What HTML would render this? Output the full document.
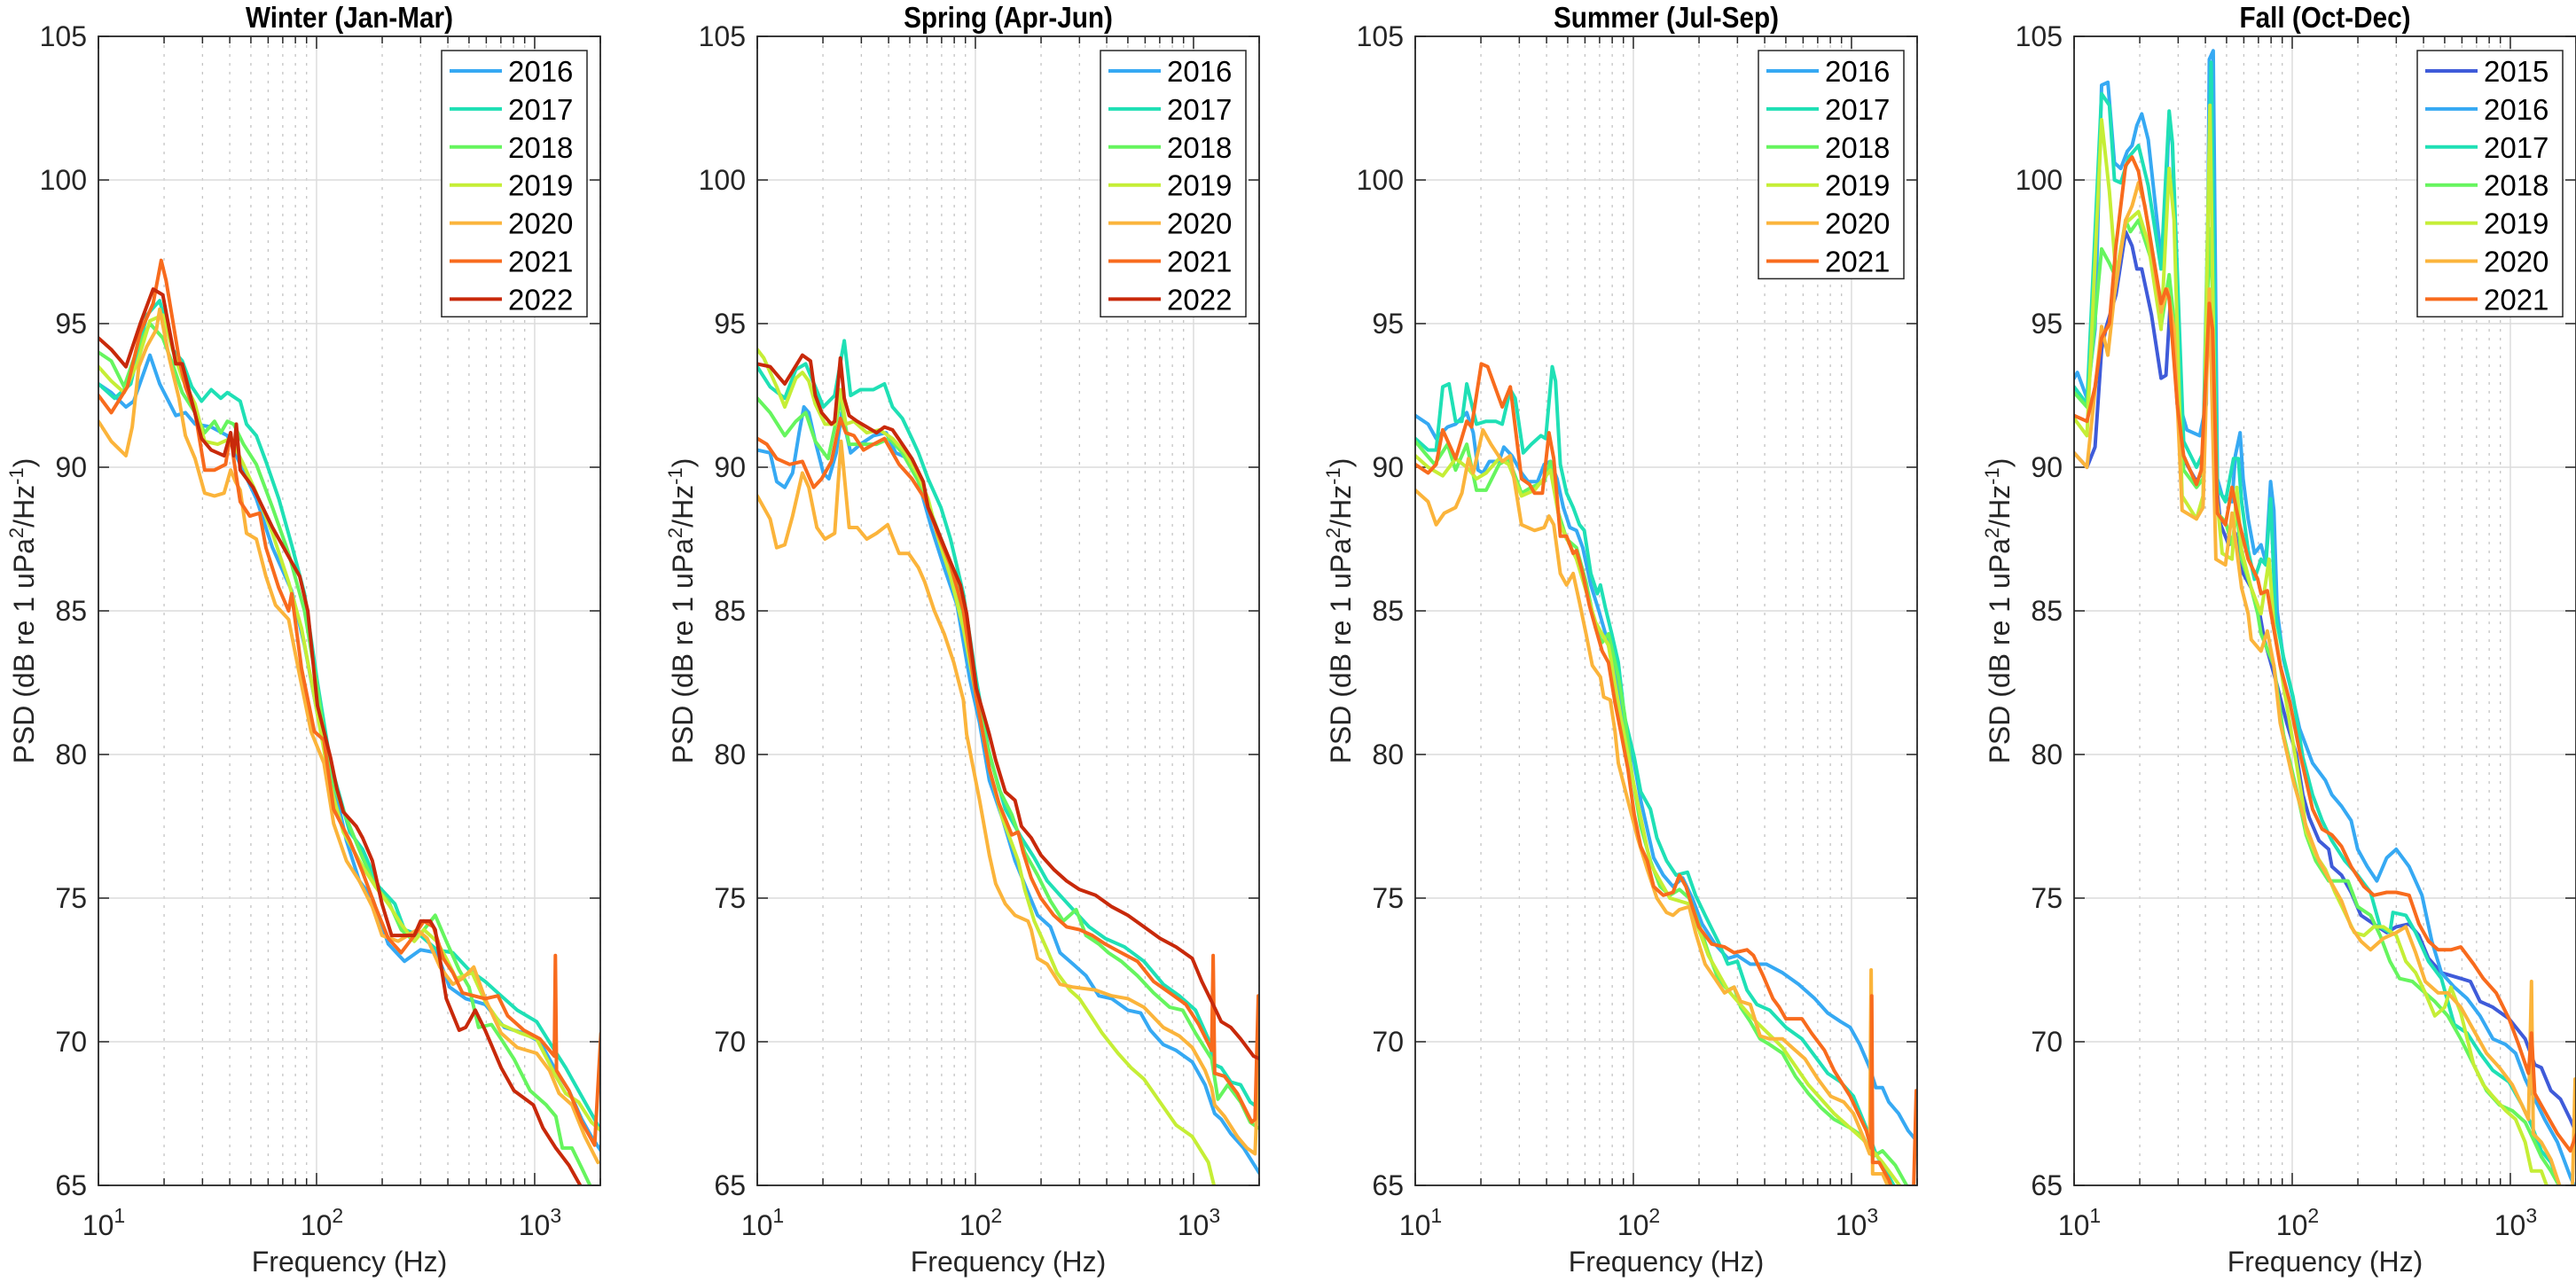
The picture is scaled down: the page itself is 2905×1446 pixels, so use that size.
<!DOCTYPE html>
<html><head><meta charset="utf-8">
<style>
html,body{margin:0;padding:0;background:#fff;}
svg{display:block;font-family:"Liberation Sans",Arial,sans-serif;}
</style></head>
<body>
<svg id="chart" width="2905" height="1446" viewBox="0 0 2905 1446" xmlns="http://www.w3.org/2000/svg"></svg>
<script>
// ---- data: [log10(Hz), dB] pairs ----
const yearColors = {"2015":"#3f5bd9","2016":"#36a9f3","2017":"#1fe0b5","2018":"#66f55e","2019":"#c5ee36","2020":"#fbb43b","2021":"#f86b1d","2022":"#c8290a"};
const panelTitles = ["Winter (Jan-Mar)","Spring (Apr-Jun)","Summer (Jul-Sep)","Fall (Oct-Dec)"];
const yTicks = [65,70,75,80,85,90,95,100,105];
const xDecades = [1,2,3];

const winter2016 = [[1.000,92.9],[1.059,92.6],[1.126,92.1],[1.162,92.3],[1.236,93.9],[1.281,92.9],[1.355,91.8],[1.399,91.9],[1.443,91.5],[1.517,91.4],[1.591,91.1],[1.650,90.1],[1.724,88.9],[1.798,87.2],[1.886,85.7],[1.945,83.8],[2.004,81.4],[2.064,79.5],[2.137,77.0],[2.196,75.6],[2.256,75.0],[2.329,73.4],[2.403,72.8],[2.477,73.2],[2.551,73.1],[2.610,71.9],[2.684,71.5],[2.773,71.3],[2.861,70.5],[2.950,70.3],[3.024,70.0],[3.097,69.0],[3.157,68.3],[3.216,67.3],[3.260,66.7],[3.304,66.2]];
const winter2017 = [[1.000,92.9],[1.074,92.4],[1.148,92.9],[1.222,95.3],[1.281,95.8],[1.340,94.1],[1.384,93.7],[1.428,92.8],[1.473,92.3],[1.517,92.7],[1.561,92.4],[1.591,92.6],[1.650,92.3],[1.679,91.5],[1.724,91.1],[1.768,90.2],[1.827,88.9],[1.886,87.3],[1.945,85.6],[2.004,82.5],[2.064,79.7],[2.152,77.3],[2.211,76.7],[2.285,75.4],[2.359,74.8],[2.403,73.9],[2.477,73.7],[2.551,73.2],[2.625,73.1],[2.699,72.5],[2.773,72.1],[2.846,71.6],[2.920,71.1],[3.009,70.7],[3.083,69.8],[3.142,69.1],[3.201,68.3],[3.260,67.5],[3.304,66.9]];
const winter2018 = [[1.000,94.0],[1.059,93.7],[1.118,92.8],[1.177,94.1],[1.236,95.0],[1.295,94.5],[1.340,93.6],[1.384,92.6],[1.443,91.9],[1.487,91.2],[1.532,91.6],[1.561,91.2],[1.591,91.6],[1.620,91.5],[1.665,90.8],[1.724,90.1],[1.798,88.6],[1.872,87.0],[1.945,85.0],[2.004,82.3],[2.064,79.2],[2.152,77.5],[2.211,76.4],[2.270,75.4],[2.329,74.9],[2.388,73.9],[2.448,73.5],[2.492,73.9],[2.544,74.4],[2.595,73.5],[2.654,72.5],[2.699,71.9],[2.743,70.5],[2.802,70.6],[2.846,70.1],[2.905,69.4],[2.979,68.3],[3.053,67.8],[3.097,67.4],[3.127,66.3],[3.171,66.3],[3.216,65.6],[3.260,64.9],[3.280,64.2]];
const winter2019 = [[1.000,93.5],[1.059,93.0],[1.118,92.6],[1.177,93.6],[1.236,95.1],[1.295,95.3],[1.340,94.1],[1.384,93.1],[1.443,92.2],[1.487,90.9],[1.547,90.8],[1.606,91.0],[1.665,90.1],[1.724,89.1],[1.798,87.7],[1.872,86.0],[1.931,84.4],[1.990,82.0],[2.064,78.9],[2.123,77.3],[2.211,76.1],[2.270,75.4],[2.329,74.8],[2.388,74.1],[2.448,73.5],[2.492,73.9],[2.551,73.5],[2.595,72.9],[2.640,72.2],[2.713,72.4],[2.773,71.4],[2.846,70.6],[2.935,70.3],[3.009,70.1],[3.097,68.8],[3.142,68.2],[3.201,67.9],[3.260,67.2],[3.304,66.9]];
const winter2020 = [[1.000,91.6],[1.059,90.9],[1.126,90.4],[1.155,91.4],[1.185,93.5],[1.222,94.2],[1.266,94.8],[1.281,95.5],[1.325,93.8],[1.369,92.4],[1.399,91.1],[1.443,90.3],[1.487,89.1],[1.532,89.0],[1.576,89.1],[1.606,89.9],[1.628,89.5],[1.650,89.2],[1.679,87.7],[1.724,87.5],[1.768,86.2],[1.812,85.2],[1.872,84.7],[1.916,83.0],[1.975,80.8],[2.034,79.7],[2.078,77.6],[2.137,76.3],[2.196,75.6],[2.256,74.7],[2.300,73.7],[2.374,73.5],[2.462,73.9],[2.507,73.6],[2.566,72.6],[2.625,72.0],[2.669,72.2],[2.721,72.6],[2.773,71.5],[2.846,70.3],[2.920,69.8],[3.009,69.6],[3.068,69.0],[3.112,68.2],[3.171,67.8],[3.230,66.7],[3.290,65.8]];
const winter2021 = [[1.000,92.5],[1.059,91.9],[1.133,92.8],[1.192,94.7],[1.251,95.7],[1.288,97.2],[1.310,96.5],[1.369,93.8],[1.399,92.8],[1.443,91.9],[1.487,89.9],[1.532,89.9],[1.583,90.1],[1.606,91.2],[1.620,90.3],[1.650,88.8],[1.694,88.3],[1.739,88.4],[1.768,87.2],[1.827,85.8],[1.872,85.0],[1.886,85.6],[1.931,83.0],[1.990,80.8],[2.034,80.5],[2.078,78.1],[2.152,77.0],[2.211,75.9],[2.270,74.7],[2.329,73.6],[2.388,73.1],[2.448,73.7],[2.492,74.2],[2.536,74.0],[2.581,72.9],[2.625,72.4],[2.669,71.7],[2.773,71.5],[2.832,71.6],[2.876,70.9],[2.950,70.4],[3.024,70.1],[3.090,69.5],[3.095,73.0],[3.100,69.0],[3.157,68.3],[3.216,67.2],[3.275,66.4],[3.304,70.3]];
const winter2022 = [[1.000,94.5],[1.059,94.1],[1.126,93.5],[1.192,95.0],[1.251,96.2],[1.295,96.0],[1.355,93.6],[1.384,93.6],[1.428,92.3],[1.473,91.0],[1.517,90.6],[1.576,90.4],[1.606,91.2],[1.620,90.4],[1.632,91.5],[1.650,89.9],[1.709,89.3],[1.798,87.9],[1.886,86.7],[1.923,86.2],[1.960,85.0],[2.004,81.7],[2.064,79.9],[2.093,78.8],[2.123,78.0],[2.182,77.5],[2.211,77.1],[2.256,76.3],[2.300,74.8],[2.344,73.7],[2.403,73.7],[2.448,73.7],[2.477,74.2],[2.521,74.2],[2.544,73.9],[2.595,71.5],[2.654,70.4],[2.684,70.5],[2.728,71.1],[2.773,70.4],[2.846,69.1],[2.905,68.3],[2.994,67.8],[3.038,67.0],[3.097,66.3],[3.157,65.7],[3.216,64.9]];

const spring2016 = [[1.000,90.6],[1.059,90.5],[1.089,89.5],[1.126,89.3],[1.162,89.8],[1.192,91.2],[1.214,92.1],[1.236,91.9],[1.266,90.9],[1.303,89.8],[1.328,89.6],[1.362,90.5],[1.387,91.9],[1.428,90.5],[1.473,90.8],[1.532,91.1],[1.591,91.2],[1.635,90.5],[1.694,90.3],[1.739,89.5],[1.798,87.9],[1.857,86.5],[1.916,85.2],[1.975,82.6],[2.019,81.1],[2.064,79.1],[2.123,77.8],[2.182,76.3],[2.241,75.2],[2.285,74.4],[2.344,74.0],[2.388,73.1],[2.448,72.7],[2.507,72.3],[2.566,71.6],[2.625,71.5],[2.699,71.1],[2.758,71.0],[2.802,70.4],[2.861,69.9],[2.920,69.7],[2.994,69.3],[3.053,68.5],[3.097,67.5],[3.127,67.3],[3.171,66.8],[3.230,66.3],[3.304,65.4]];
const spring2017 = [[1.000,93.5],[1.059,92.8],[1.126,92.4],[1.177,93.4],[1.222,93.6],[1.266,92.8],[1.303,92.1],[1.355,92.5],[1.399,94.4],[1.428,92.5],[1.473,92.7],[1.532,92.7],[1.583,92.9],[1.620,92.1],[1.665,91.7],[1.709,91.0],[1.739,90.5],[1.783,89.6],[1.842,88.6],[1.886,87.5],[1.945,85.6],[2.004,82.6],[2.064,80.0],[2.137,78.1],[2.211,77.1],[2.270,76.4],[2.329,75.6],[2.388,75.1],[2.448,74.6],[2.521,74.0],[2.595,73.6],[2.684,73.3],[2.773,72.8],[2.861,72.0],[2.935,71.6],[3.009,71.1],[3.068,70.1],[3.097,69.2],[3.127,69.1],[3.171,68.6],[3.216,68.5],[3.260,67.9],[3.297,67.7]];
const spring2018 = [[1.000,92.4],[1.059,91.9],[1.126,91.1],[1.177,91.6],[1.222,91.9],[1.266,90.9],[1.325,90.3],[1.381,92.3],[1.421,90.8],[1.473,90.8],[1.547,90.8],[1.606,91.0],[1.665,90.5],[1.739,89.5],[1.798,88.4],[1.857,87.2],[1.916,85.9],[1.975,83.2],[2.049,80.5],[2.108,78.8],[2.167,77.9],[2.226,76.6],[2.285,75.8],[2.344,74.9],[2.403,74.2],[2.462,74.6],[2.507,73.7],[2.566,73.4],[2.610,73.1],[2.669,72.8],[2.743,72.3],[2.817,71.7],[2.891,71.2],[2.950,71.1],[3.009,70.3],[3.083,69.4],[3.112,68.0],[3.157,68.5],[3.216,67.9],[3.260,67.2],[3.297,67.0]];
const spring2019 = [[1.000,94.1],[1.030,93.8],[1.089,92.8],[1.126,92.1],[1.177,93.1],[1.207,93.3],[1.236,93.0],[1.266,92.2],[1.310,91.5],[1.355,91.5],[1.381,92.7],[1.406,91.5],[1.443,91.6],[1.502,91.2],[1.561,91.3],[1.620,91.0],[1.679,90.5],[1.739,89.7],[1.783,88.9],[1.827,87.6],[1.886,86.2],[1.945,84.4],[2.004,82.0],[2.064,79.5],[2.123,77.8],[2.167,76.9],[2.196,76.3],[2.226,75.3],[2.270,74.2],[2.329,73.2],[2.374,72.4],[2.433,71.8],[2.477,71.5],[2.521,71.0],[2.581,70.3],[2.654,69.6],[2.713,69.1],[2.773,68.7],[2.846,67.9],[2.920,67.1],[2.994,66.7],[3.068,65.8],[3.097,64.9],[3.120,64.0]];
const spring2020 = [[1.000,89.0],[1.059,88.2],[1.089,87.2],[1.126,87.3],[1.162,88.3],[1.207,89.8],[1.236,89.3],[1.273,87.9],[1.310,87.5],[1.355,87.7],[1.384,90.9],[1.421,87.9],[1.458,87.9],[1.502,87.5],[1.547,87.7],[1.598,88.0],[1.650,87.0],[1.694,87.0],[1.739,86.5],[1.768,86.0],[1.812,85.0],[1.857,84.2],[1.901,83.2],[1.945,81.9],[1.960,80.7],[2.019,78.4],[2.064,76.5],[2.093,75.5],[2.137,74.8],[2.182,74.4],[2.241,74.2],[2.256,73.9],[2.285,72.9],[2.329,72.7],[2.388,72.0],[2.448,71.9],[2.551,71.8],[2.625,71.6],[2.699,71.5],[2.773,71.2],[2.861,70.5],[2.935,70.2],[2.994,69.8],[3.053,69.0],[3.083,68.4],[3.097,67.8],[3.142,67.4],[3.201,66.7],[3.245,66.3],[3.282,66.1],[3.304,70.1]];
const spring2021 = [[1.000,91.0],[1.044,90.8],[1.089,90.3],[1.148,90.1],[1.207,90.2],[1.258,89.3],[1.295,89.6],[1.340,90.2],[1.381,91.7],[1.406,91.2],[1.443,91.1],[1.487,90.6],[1.532,90.8],[1.583,91.0],[1.650,90.1],[1.709,89.6],[1.768,88.9],[1.827,87.7],[1.886,86.6],[1.945,85.0],[2.004,82.0],[2.064,79.5],[2.108,78.3],[2.167,77.2],[2.196,77.3],[2.219,76.6],[2.256,75.7],[2.300,75.0],[2.359,74.4],[2.418,74.0],[2.477,73.9],[2.536,73.7],[2.595,73.4],[2.669,73.1],[2.743,72.8],[2.817,72.1],[2.891,71.7],[2.965,71.3],[3.024,70.6],[3.083,69.7],[3.090,73.0],[3.097,68.9],[3.142,68.8],[3.201,68.2],[3.267,67.2],[3.282,67.3],[3.297,71.6]];
const spring2022 = [[1.000,93.6],[1.059,93.5],[1.126,92.9],[1.207,93.9],[1.244,93.7],[1.266,92.5],[1.295,91.9],[1.340,91.5],[1.355,91.6],[1.381,93.8],[1.399,92.4],[1.421,91.8],[1.458,91.6],[1.502,91.4],[1.547,91.2],[1.583,91.4],[1.620,91.3],[1.665,90.8],[1.709,90.3],[1.761,89.5],[1.783,88.6],[1.827,87.8],[1.886,86.7],[1.931,85.9],[1.960,84.9],[2.004,82.3],[2.064,80.7],[2.093,79.8],[2.137,78.7],[2.182,78.4],[2.211,77.5],[2.256,77.1],[2.300,76.5],[2.359,76.0],[2.418,75.6],[2.477,75.3],[2.551,75.1],[2.625,74.7],[2.699,74.4],[2.773,74.0],[2.846,73.6],[2.920,73.3],[2.994,72.9],[3.038,72.1],[3.083,71.4],[3.127,70.7],[3.171,70.5],[3.216,70.1],[3.275,69.5],[3.304,69.4]];

const summer2016 = [[1.000,91.8],[1.059,91.5],[1.096,91.0],[1.148,91.4],[1.185,91.5],[1.236,91.9],[1.266,91.2],[1.288,89.9],[1.310,89.8],[1.340,90.2],[1.384,90.2],[1.406,90.7],[1.443,90.4],[1.487,89.8],[1.517,89.5],[1.561,89.5],[1.591,90.1],[1.620,90.2],[1.650,89.6],[1.679,88.6],[1.709,87.9],[1.739,87.8],[1.768,87.2],[1.805,85.9],[1.842,85.0],[1.872,84.2],[1.916,82.9],[1.960,81.1],[2.004,79.7],[2.034,78.4],[2.093,76.4],[2.137,75.8],[2.182,75.4],[2.226,75.7],[2.270,75.0],[2.315,74.1],[2.374,73.4],[2.433,72.9],[2.477,73.0],[2.536,72.7],[2.610,72.7],[2.684,72.4],[2.758,72.0],[2.832,71.5],[2.891,71.0],[2.950,70.7],[2.994,70.5],[3.038,69.9],[3.083,69.1],[3.112,68.4],[3.142,68.4],[3.171,67.9],[3.216,67.5],[3.260,66.9],[3.304,66.5]];
const summer2017 = [[1.000,91.0],[1.059,90.6],[1.096,90.6],[1.126,92.8],[1.155,92.9],[1.185,91.6],[1.214,91.6],[1.236,92.9],[1.281,91.5],[1.325,91.6],[1.369,91.6],[1.399,91.5],[1.436,92.7],[1.458,92.4],[1.495,90.5],[1.532,90.8],[1.576,91.1],[1.598,91.0],[1.628,93.5],[1.643,93.0],[1.665,90.1],[1.694,89.1],[1.724,88.6],[1.753,88.0],[1.775,87.8],[1.805,86.3],[1.835,85.6],[1.849,85.9],[1.872,85.1],[1.901,84.2],[1.931,83.2],[1.960,81.3],[2.004,79.9],[2.034,78.7],[2.078,78.1],[2.108,77.1],[2.152,76.3],[2.196,75.8],[2.248,75.9],[2.285,75.1],[2.329,74.4],[2.388,73.5],[2.433,72.7],[2.477,72.8],[2.521,71.8],[2.566,71.3],[2.625,71.1],[2.699,70.5],[2.773,70.1],[2.832,69.5],[2.891,68.9],[2.950,68.6],[3.009,68.1],[3.068,67.0],[3.112,66.1],[3.157,65.5],[3.201,64.9],[3.240,64.0]];
const summer2018 = [[1.000,90.9],[1.044,90.5],[1.089,90.1],[1.148,90.8],[1.185,89.9],[1.236,90.8],[1.281,89.2],[1.325,89.2],[1.384,90.1],[1.428,90.3],[1.487,89.1],[1.532,89.3],[1.591,89.5],[1.620,90.2],[1.657,88.4],[1.694,87.5],[1.739,87.2],[1.783,86.0],[1.827,84.4],[1.857,83.9],[1.886,84.2],[1.931,82.7],[1.960,81.4],[1.990,79.5],[2.034,77.5],[2.078,76.3],[2.123,75.4],[2.167,75.1],[2.211,75.3],[2.256,75.0],[2.300,74.1],[2.344,73.1],[2.388,72.2],[2.433,71.8],[2.462,71.9],[2.492,71.2],[2.536,70.7],[2.581,70.1],[2.625,69.9],[2.684,69.6],[2.743,68.8],[2.802,68.2],[2.861,67.7],[2.920,67.3],[2.994,67.0],[3.053,66.7],[3.097,66.0],[3.142,66.2],[3.201,65.7],[3.260,64.9],[3.290,64.2]];
const summer2019 = [[1.000,90.4],[1.059,90.0],[1.126,89.7],[1.185,90.3],[1.236,90.0],[1.281,89.6],[1.325,89.8],[1.384,90.3],[1.428,90.1],[1.487,89.0],[1.547,89.2],[1.620,89.9],[1.665,88.0],[1.739,86.8],[1.827,84.6],[1.886,83.8],[1.945,81.2],[1.990,79.4],[2.078,76.2],[2.167,75.0],[2.256,74.8],[2.344,73.0],[2.433,71.8],[2.536,70.9],[2.684,69.8],[2.802,68.5],[2.920,67.5],[3.053,66.6],[3.142,65.8],[3.230,64.9]];
const summer2020 = [[1.000,89.2],[1.059,88.8],[1.096,88.0],[1.133,88.4],[1.185,88.6],[1.214,89.1],[1.244,90.3],[1.266,89.8],[1.310,91.3],[1.347,90.8],[1.399,90.2],[1.436,90.4],[1.487,88.0],[1.547,87.8],[1.591,87.9],[1.613,88.3],[1.635,88.0],[1.665,86.3],[1.694,85.9],[1.724,86.3],[1.753,85.3],[1.783,84.2],[1.812,83.1],[1.849,82.7],[1.864,82.0],[1.894,81.9],[1.916,80.8],[1.931,79.7],[1.975,78.4],[2.019,77.1],[2.064,76.0],[2.108,75.0],[2.152,74.5],[2.182,74.4],[2.211,74.6],[2.256,74.7],[2.285,73.8],[2.329,72.7],[2.374,72.2],[2.418,71.7],[2.462,71.9],[2.492,71.4],[2.536,71.3],[2.581,70.2],[2.625,70.1],[2.684,70.1],[2.728,69.8],[2.787,69.4],[2.846,68.7],[2.905,68.1],[2.965,67.9],[3.009,67.5],[3.053,66.7],[3.083,66.1],[3.090,72.5],[3.097,65.4],[3.142,65.4],[3.171,64.9],[3.250,63.5]];
const summer2021 = [[1.000,90.1],[1.059,89.8],[1.096,90.1],[1.126,91.3],[1.185,90.3],[1.236,91.6],[1.258,91.4],[1.303,93.6],[1.332,93.5],[1.399,92.1],[1.436,92.8],[1.473,90.5],[1.487,89.6],[1.524,89.4],[1.547,89.1],[1.583,89.1],[1.613,91.2],[1.635,90.3],[1.665,87.6],[1.694,87.6],[1.724,87.0],[1.739,87.1],[1.768,86.3],[1.798,85.2],[1.827,84.4],[1.857,83.6],[1.886,83.2],[1.916,81.8],[1.945,80.7],[1.975,79.5],[2.004,77.9],[2.034,76.8],[2.064,76.3],[2.093,75.4],[2.137,75.1],[2.182,75.2],[2.211,75.8],[2.241,75.4],[2.270,74.7],[2.300,74.0],[2.359,73.4],[2.418,73.3],[2.462,73.1],[2.521,73.2],[2.551,73.0],[2.595,72.3],[2.640,71.5],[2.669,71.2],[2.699,70.8],[2.773,70.8],[2.817,70.3],[2.876,69.7],[2.920,69.0],[2.994,68.1],[3.068,66.9],[3.090,66.3],[3.093,71.6],[3.097,65.8],[3.127,65.8],[3.171,65.2],[3.186,64.9],[3.230,64.0],[3.282,64.0],[3.297,68.3]];

const fall2015 = [[1.000,90.5],[1.059,90.0],[1.096,90.7],[1.126,94.1],[1.148,94.9],[1.192,96.0],[1.236,98.2],[1.266,97.7],[1.288,96.9],[1.310,96.9],[1.355,95.3],[1.399,93.1],[1.421,93.2],[1.443,96.0],[1.473,92.2],[1.502,90.3],[1.561,89.5],[1.591,89.9],[1.613,94.8],[1.628,95.5],[1.650,89.6],[1.672,88.0],[1.709,87.3],[1.739,87.7],[1.768,86.4],[1.812,85.8],[1.849,85.0],[1.872,84.0],[1.931,82.4],[1.975,81.1],[2.019,80.0],[2.049,78.6],[2.078,77.8],[2.123,77.0],[2.167,76.7],[2.182,76.1],[2.226,75.8],[2.270,75.2],[2.315,74.4],[2.374,74.1],[2.433,73.8],[2.477,74.0],[2.536,74.1],[2.581,73.7],[2.625,72.9],[2.684,72.4],[2.773,72.2],[2.817,72.1],[2.861,71.4],[2.920,71.2],[2.994,70.8],[3.068,70.1],[3.112,69.2],[3.142,69.1],[3.186,68.3],[3.230,68.0],[3.275,67.3],[3.304,66.8]];
const fall2016 = [[1.000,93.1],[1.015,93.3],[1.059,92.4],[1.096,94.8],[1.126,103.3],[1.155,103.4],[1.185,100.6],[1.214,100.4],[1.244,101.0],[1.266,101.2],[1.288,101.9],[1.310,102.3],[1.340,101.4],[1.399,97.3],[1.421,99.2],[1.436,102.3],[1.451,101.2],[1.487,92.1],[1.517,91.3],[1.576,91.1],[1.606,92.2],[1.620,104.2],[1.638,104.5],[1.657,89.6],[1.679,89.0],[1.724,88.8],[1.739,90.4],[1.761,91.2],[1.775,89.6],[1.798,88.2],[1.827,87.0],[1.857,87.3],[1.879,86.7],[1.901,89.5],[1.916,88.5],[1.931,85.0],[1.960,83.3],[1.990,82.4],[2.034,80.9],[2.093,79.7],[2.152,79.1],[2.182,78.6],[2.226,78.2],[2.270,77.7],[2.300,76.7],[2.344,76.1],[2.388,75.6],[2.433,76.4],[2.477,76.7],[2.536,76.1],[2.595,75.1],[2.640,73.5],[2.684,72.4],[2.743,71.9],[2.802,71.5],[2.861,70.9],[2.920,70.1],[2.979,69.9],[3.024,69.6],[3.068,68.7],[3.112,68.0],[3.157,67.3],[3.216,66.5],[3.275,65.3],[3.304,64.8]];
const fall2017 = [[1.000,92.8],[1.059,92.2],[1.126,103.0],[1.162,102.6],[1.185,100.0],[1.214,99.9],[1.251,100.8],[1.295,101.2],[1.340,99.8],[1.399,96.9],[1.436,102.4],[1.451,101.3],[1.502,90.9],[1.561,90.0],[1.591,90.5],[1.628,104.1],[1.657,89.3],[1.694,88.8],[1.731,90.3],[1.753,90.3],[1.768,88.8],[1.798,87.1],[1.827,86.1],[1.857,86.8],[1.879,86.6],[1.901,88.9],[1.923,84.9],[1.960,83.4],[2.004,82.0],[2.049,79.9],[2.093,78.6],[2.137,77.7],[2.182,77.0],[2.241,76.3],[2.300,75.8],[2.359,75.2],[2.403,74.0],[2.448,73.8],[2.462,74.5],[2.521,74.4],[2.566,73.8],[2.625,72.8],[2.684,72.2],[2.743,70.6],[2.802,70.3],[2.861,69.6],[2.920,69.0],[2.994,68.6],[3.053,67.8],[3.097,67.1],[3.142,66.2],[3.186,65.8],[3.230,64.9],[3.270,64.0]];
const fall2018 = [[1.000,92.6],[1.059,92.1],[1.126,97.6],[1.162,97.1],[1.192,96.6],[1.236,98.6],[1.258,98.2],[1.295,98.6],[1.355,97.2],[1.399,94.9],[1.436,96.7],[1.458,95.1],[1.502,89.9],[1.561,89.3],[1.591,89.6],[1.620,98.3],[1.635,96.0],[1.657,88.4],[1.694,88.1],[1.724,87.3],[1.746,88.5],[1.768,86.8],[1.812,85.8],[1.842,84.9],[1.857,84.2],[1.916,83.1],[1.960,80.7],[2.019,78.8],[2.064,77.2],[2.108,76.3],[2.167,75.6],[2.211,75.6],[2.256,75.6],[2.300,74.7],[2.359,74.4],[2.403,73.7],[2.448,72.8],[2.492,72.2],[2.551,72.1],[2.595,71.8],[2.654,71.4],[2.713,70.9],[2.773,70.1],[2.832,69.2],[2.891,68.3],[2.950,67.8],[3.009,67.6],[3.068,67.2],[3.112,66.5],[3.142,66.0],[3.186,65.5],[3.230,64.9],[3.270,64.0]];
const fall2019 = [[1.000,91.7],[1.059,91.1],[1.126,102.1],[1.162,99.6],[1.192,96.7],[1.236,98.5],[1.295,98.9],[1.340,97.8],[1.399,94.8],[1.436,100.4],[1.458,98.6],[1.495,89.0],[1.561,88.2],[1.591,89.0],[1.623,102.6],[1.650,89.3],[1.679,87.0],[1.724,86.8],[1.746,89.3],[1.768,87.1],[1.812,85.8],[1.857,84.9],[1.894,86.8],[1.916,84.5],[1.960,82.4],[2.004,80.4],[2.049,78.3],[2.064,77.3],[2.108,76.5],[2.152,76.0],[2.196,75.2],[2.241,74.5],[2.285,73.8],[2.329,73.7],[2.374,74.0],[2.418,74.0],[2.477,73.7],[2.521,72.8],[2.566,72.4],[2.610,71.7],[2.654,70.9],[2.699,71.2],[2.728,71.9],[2.773,71.0],[2.832,69.2],[2.876,68.5],[2.920,68.1],[2.979,67.6],[3.024,67.3],[3.068,66.5],[3.097,65.5],[3.142,65.5],[3.171,64.9],[3.220,64.0]];
const fall2020 = [[1.000,90.5],[1.059,90.0],[1.126,94.9],[1.155,93.9],[1.185,96.0],[1.236,98.6],[1.266,99.1],[1.295,99.9],[1.325,99.1],[1.399,95.4],[1.428,96.2],[1.458,94.8],[1.495,88.5],[1.561,88.2],[1.591,88.6],[1.620,96.2],[1.650,86.8],[1.694,86.6],[1.724,88.4],[1.768,85.8],[1.798,84.9],[1.812,84.0],[1.857,83.6],[1.886,84.3],[1.916,83.1],[1.945,81.1],[2.004,79.1],[2.064,77.5],[2.123,76.3],[2.182,75.5],[2.226,74.9],[2.270,74.0],[2.315,73.5],[2.359,73.2],[2.418,73.6],[2.477,73.8],[2.521,74.0],[2.566,73.1],[2.610,72.1],[2.669,71.7],[2.713,71.7],[2.773,71.2],[2.832,70.4],[2.891,69.6],[2.950,69.1],[3.009,68.5],[3.053,67.8],[3.083,67.3],[3.097,72.1],[3.105,66.8],[3.142,66.5],[3.186,65.9],[3.230,64.9],[3.282,64.0],[3.297,68.7]];
const fall2021 = [[1.000,91.8],[1.059,91.6],[1.096,92.8],[1.126,94.5],[1.162,95.0],[1.192,97.7],[1.236,100.5],[1.266,100.8],[1.295,100.3],[1.340,98.4],[1.399,95.7],[1.421,96.2],[1.436,95.9],[1.473,92.2],[1.502,90.4],[1.561,89.4],[1.583,89.9],[1.620,95.7],[1.635,94.8],[1.657,88.4],[1.694,88.0],[1.724,89.3],[1.753,88.2],[1.798,86.8],[1.842,86.1],[1.857,85.6],[1.886,85.7],[1.901,85.0],[1.945,83.1],[1.990,81.8],[2.034,80.1],[2.093,78.1],[2.137,77.4],[2.182,77.2],[2.226,76.8],[2.270,76.1],[2.329,75.4],[2.374,75.1],[2.433,75.2],[2.477,75.2],[2.536,75.1],[2.581,74.1],[2.625,73.5],[2.669,73.2],[2.728,73.2],[2.773,73.3],[2.832,72.7],[2.876,72.2],[2.935,71.7],[2.994,70.8],[3.038,69.9],[3.083,68.9],[3.097,70.3],[3.112,68.2],[3.171,67.4],[3.216,66.8],[3.275,66.2],[3.304,66.8]];

const winterYears = ["2016","2017","2018","2019","2020","2021","2022"];
const springYears = ["2016","2017","2018","2019","2020","2021","2022"];
const summerYears = ["2016","2017","2018","2019","2020","2021"];
const fallYears = ["2015","2016","2017","2018","2019","2020","2021"];
const winterSeries = [winter2016,winter2017,winter2018,winter2019,winter2020,winter2021,winter2022];
const springSeries = [spring2016,spring2017,spring2018,spring2019,spring2020,spring2021,spring2022];
const summerSeries = [summer2016,summer2017,summer2018,summer2019,summer2020,summer2021];
const fallSeries = [fall2015,fall2016,fall2017,fall2018,fall2019,fall2020,fall2021];

// ---- layout ----
const NS = "http://www.w3.org/2000/svg";
const svg = document.getElementById("chart");
const panelLefts = [111, 854, 1596, 2339];
const plotW = 566, plotTop = 41, plotBot = 1337;
const xMinLog = 1, xMaxLog = Math.log10(2000);
const yMin = 65, yMax = 105;

function mk(tag, attrs, parent) {
  const e = document.createElementNS(NS, tag);
  for (const k in attrs) e.setAttribute(k, attrs[k]);
  (parent || svg).appendChild(e);
  return e;
}
function xScale(left, lf) { return left + (lf - xMinLog) / (xMaxLog - xMinLog) * plotW; }
function yScale(v) { return plotBot - (v - yMin) / (yMax - yMin) * (plotBot - plotTop); }

const seasons = [
  {key:"winter", years:winterYears, series:winterSeries},
  {key:"spring", years:springYears, series:springSeries},
  {key:"summer", years:summerYears, series:summerSeries},
  {key:"fall", years:fallYears, series:fallSeries}
];

seasons.forEach((s, pi) => {
  const L = panelLefts[pi], R = L + plotW;
  const g = mk("g", {});
  
  

  mk("rect", {x:L, y:plotTop, width:plotW, height:plotBot-plotTop, fill:"#fff"}, g);

  const grid = mk("g", {}, g);
  
  
  for (let d = 1; d <= 3; d++) {
    for (let m = 2; m <= 9; m++) {
      const lf = d + Math.log10(m);
      if (lf > xMaxLog) continue;
      const x = xScale(L, lf);
      mk("line", {x1:x, x2:x, y1:plotTop, y2:plotBot, stroke:"#c4c4c4", "stroke-width":1.3, "stroke-dasharray":"3,7"}, grid);
      mk("line", {x1:x, x2:x, y1:plotBot, y2:plotBot-8, stroke:"#262626", "stroke-width":1.5}, grid);
      mk("line", {x1:x, x2:x, y1:plotTop, y2:plotTop+8, stroke:"#262626", "stroke-width":1.5}, grid);
    }
  }
  xDecades.forEach(d => {
    const x = xScale(L, d);
    mk("line", {x1:x, x2:x, y1:plotTop, y2:plotBot, stroke:"#dcdcdc", "stroke-width":1.5}, grid);
    mk("line", {x1:x, x2:x, y1:plotBot, y2:plotBot-14, stroke:"#262626", "stroke-width":1.5}, grid);
    mk("line", {x1:x, x2:x, y1:plotTop, y2:plotTop+14, stroke:"#262626", "stroke-width":1.5}, grid);
  });
  yTicks.forEach(v => {
    const y = yScale(v);
    mk("line", {x1:L, x2:R, y1:y, y2:y, stroke:"#dcdcdc", "stroke-width":1.5}, grid);
    mk("line", {x1:L, x2:L+12, y1:y, y2:y, stroke:"#262626", "stroke-width":1.5}, grid);
    mk("line", {x1:R, x2:R-12, y1:y, y2:y, stroke:"#262626", "stroke-width":1.5}, grid);
  });

  const clipId = "clip" + pi;
  const cp = mk("clipPath", {id:clipId}, g);
  mk("rect", {x:L, y:plotTop, width:plotW, height:plotBot-plotTop}, cp);
  const lines = mk("g", {"clip-path":"url(#"+clipId+")"}, g);
  s.series.forEach((data, si) => {
    const yr = s.years[si];
    const d = data.map((p, i) => (i ? "L" : "M") + xScale(L, p[0]).toFixed(1) + "," + yScale(p[1]).toFixed(1)).join(" ");
    const path = mk("path", {d:d, fill:"none", stroke:yearColors[yr], "stroke-width":4, "stroke-linejoin":"round", "stroke-linecap":"round"}, lines);
    
    
  });

  mk("rect", {x:L, y:plotTop, width:plotW, height:plotBot-plotTop, fill:"none", stroke:"#262626", "stroke-width":1.8}, g);

  yTicks.forEach(v => {
    const t = mk("text", {x:L-13, y:yScale(v)+11, "text-anchor":"end", "font-size":32, fill:"#262626"}, g);
    t.textContent = v;
    
    
  });
  xDecades.forEach(d => {
    const x = xScale(L, d);
    const t = mk("text", {x:x+6, y:1393, "text-anchor":"middle", "font-size":32, fill:"#262626"}, g);
    
    
    const a = mk("tspan", {}, t); a.textContent = "10";
    const b = mk("tspan", {dy:-14, "font-size":23}, t); b.textContent = String(d);
  });
  const xl = mk("text", {x:L+plotW/2, y:1434, "text-anchor":"middle", "font-size":32, fill:"#262626"}, g);
  xl.textContent = "Frequency (Hz)";
  
  
  const cy = (plotTop + plotBot) / 2, cx = L - 73;
  const yl = mk("text", {x:cx, y:cy, "text-anchor":"middle", "font-size":32, fill:"#262626", transform:"rotate(-90 "+cx+" "+cy+")"}, g);
  
  
  const p1 = mk("tspan", {}, yl); p1.textContent = "PSD (dB re 1 uPa";
  const p2 = mk("tspan", {dy:-12, "font-size":22}, yl); p2.textContent = "2";
  const p3 = mk("tspan", {dy:12}, yl); p3.textContent = "/Hz";
  const p4 = mk("tspan", {dy:-12, "font-size":22}, yl); p4.textContent = "-1";
  const p5 = mk("tspan", {dy:12}, yl); p5.textContent = ")";
  const ti = mk("text", {x:L+plotW/2, y:31, "text-anchor":"middle", "font-size":33, "font-weight":"bold", fill:"#000", transform:"translate("+(L+plotW/2)+",0) scale(0.9,1) translate("+(-(L+plotW/2))+",0)"}, g);
  ti.textContent = panelTitles[pi];
  
  

  const lg = mk("g", {}, g);
  
  
  const n = s.years.length, step = 42.9, lt = 57;
  mk("rect", {x:L+387, y:lt, width:164, height:n*step, fill:"#fff", stroke:"#262626", "stroke-width":1.5}, lg);
  s.years.forEach((yr, i) => {
    const cyy = lt + 23 + i*step;
    const e = mk("g", {}, lg);
    
    
    mk("line", {x1:L+396, x2:L+455, y1:cyy, y2:cyy, stroke:yearColors[yr], "stroke-width":4}, e);
    const t = mk("text", {x:L+462, y:cyy+12, "font-size":33, fill:"#000"}, e);
    t.textContent = yr;
  });
});
</script>
</body></html>
